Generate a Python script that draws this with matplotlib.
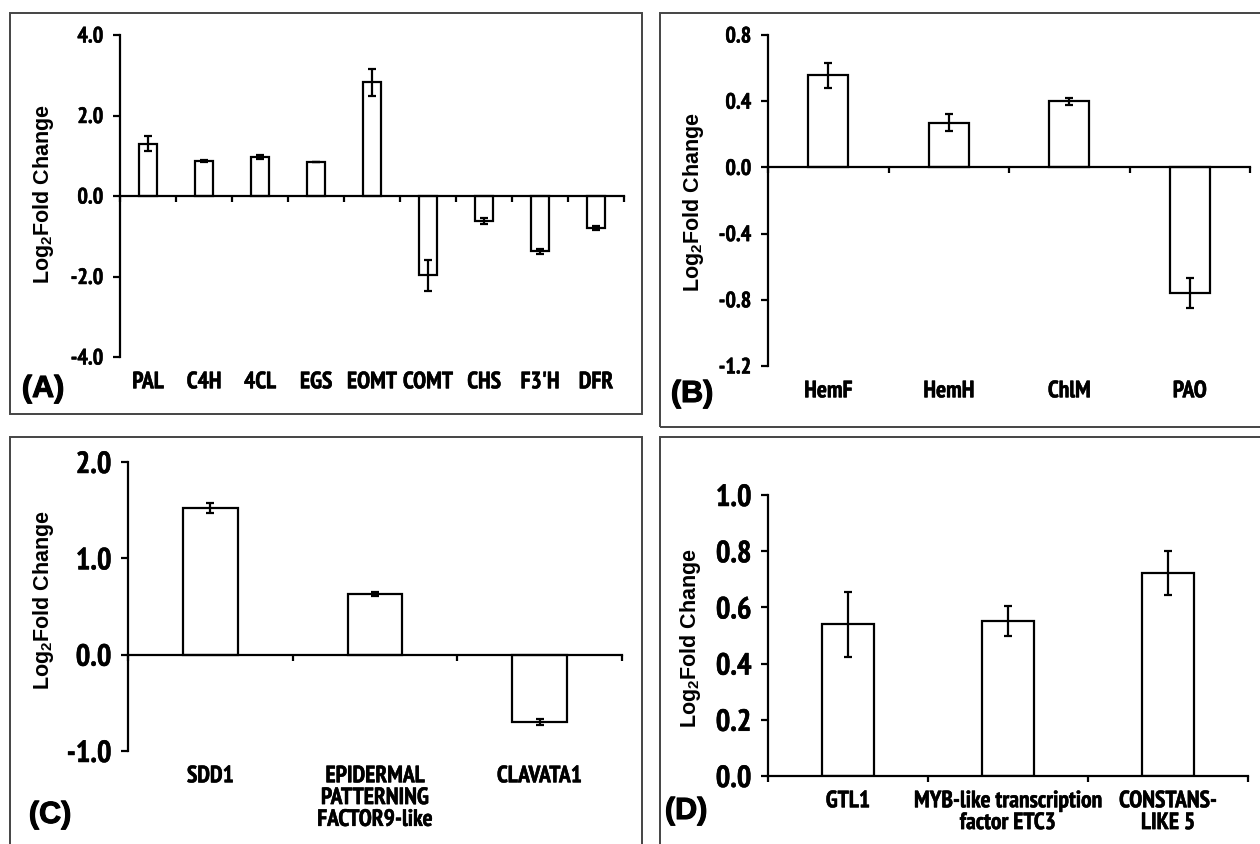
import numpy as np
import matplotlib
matplotlib.use('Agg')
import matplotlib.pyplot as plt
import matplotlib.patheffects as pe
from matplotlib import font_manager
from matplotlib.font_manager import FontProperties
from matplotlib.patches import Rectangle
from matplotlib.ticker import FormatStrFormatter

plt.rcParams['font.family'] = ['Liberation Sans', 'DejaVu Sans']
plt.rcParams['axes.unicode_minus'] = False
plt.rcParams['mathtext.fontset'] = 'custom'
plt.rcParams['mathtext.rm'] = 'Liberation Sans:bold'
plt.rcParams['mathtext.it'] = 'Liberation Sans:bold'
plt.rcParams['mathtext.bf'] = 'Liberation Sans:bold'

# look for a narrow / condensed bold face for the tick labels
narrow_file = None
for key in ['Narrow', 'Condensed']:
    for f in font_manager.fontManager.ttflist:
        fn = f.fname.replace('-', '').replace('_', '')
        if key in fn and 'Bold' in fn and 'Oblique' not in fn and 'Italic' not in fn \
                and 'Mono' not in fn and 'Serif' not in fn:
            narrow_file = f.fname
            break
    if narrow_file:
        break
if narrow_file:
    def nfont(size):
        return FontProperties(fname=narrow_file, size=size)
else:
    def nfont(size):
        return FontProperties(family='Liberation Sans', weight='bold', size=size * 0.85)

thick = [pe.withStroke(linewidth=0.35, foreground='black')]

# (A) phenylpropanoid genes
genes_a = ['PAL', 'C4H', '4CL', 'EGS', 'EOMT', 'COMT', 'CHS', "F3'H", 'DFR']
vals_a = [1.30, 0.87, 0.97, 0.84, 2.82, -1.97, -0.62, -1.37, -0.80]
errs_a = [0.18, 0.03, 0.06, 0.0, 0.33, 0.38, 0.07, 0.06, 0.05]

# (B) chlorophyll genes
genes_b = ['HemF', 'HemH', 'ChlM', 'PAO']
vals_b = [0.556, 0.270, 0.400, -0.757]
errs_b = [0.075, 0.053, 0.022, 0.090]

# (C) stomata genes
genes_c = ['SDD1', 'EPIDERMAL\nPATTERNING\nFACTOR9-like', 'CLAVATA1']
vals_c = [1.52, 0.63, -0.70]
errs_c = [0.05, 0.02, 0.03]

# (D) transcription factors
genes_d = ['GTL1', 'MYB-like transcription\nfactor ETC3', 'CONSTANS-\nLIKE 5']
vals_d = [0.540, 0.553, 0.723]
errs_d = [0.115, 0.053, 0.078]

W, H = 1260, 845
fig = plt.figure(figsize=(W / 100, H / 100), dpi=100)


def frac(x0, y0, x1, y1):
    return [x0 / W, 1 - y1 / H, (x1 - x0) / W, (y1 - y0) / H]


# panel frames
for x0, y0, x1, y1 in [(10, 14, 642, 415), (660, 14, 1265, 428),
                       (10, 438, 642, 850), (660, 438, 1265, 850)]:
    fig.patches.append(Rectangle((x0 / W, 1 - y1 / H), (x1 - x0) / W, (y1 - y0) / H,
                                 transform=fig.transFigure, fill=False,
                                 ec='#444444', lw=1.4))


def panel(box, genes, vals, errs, ylim, step, ysize, letter, letter_xy, ylab_xy):
    ax = fig.add_axes(frac(*box))
    x = np.arange(len(genes))
    ax.bar(x, vals, width=0.33, color='white', edgecolor='black', linewidth=1.6,
           yerr=errs, error_kw=dict(ecolor='black', elinewidth=1.6, capsize=3,
                                    capthick=1.6), zorder=2)
    ax.set_xlim(-0.5, len(genes) - 0.5)
    ax.set_ylim(*ylim)
    ax.set_yticks(np.arange(ylim[0], ylim[1] + step / 2, step))
    ax.yaxis.set_major_formatter(FormatStrFormatter('%.1f'))
    ax.set_xticks(np.arange(len(genes) + 1) - 0.5)
    ax.set_xticklabels([])
    ax.spines[['top', 'right']].set_visible(False)
    ax.spines['bottom'].set_position(('data', 0))
    for s in ['left', 'bottom']:
        ax.spines[s].set_linewidth(1.6)
    ax.tick_params(axis='x', direction='out', length=4, width=1.6)
    ax.tick_params(axis='y', direction='out', length=5, width=1.6, pad=7)
    for lbl in ax.get_yticklabels():
        lbl.set_fontproperties(nfont(ysize))
        lbl.set_path_effects(thick)
    for i, g in enumerate(genes):
        ax.annotate(g, (i, ylim[0]), xytext=(0, -11), textcoords='offset points',
                    ha='center', va='top', fontproperties=nfont(17),
                    linespacing=1.05, annotation_clip=False, path_effects=thick)
    fig.text(ylab_xy[0] / W, 1 - ylab_xy[1] / H, r'Log$_{2}$Fold Change',
             rotation=90, ha='center', va='center', fontsize=15.5, fontweight='bold')
    fig.text(letter_xy[0] / W, 1 - letter_xy[1] / H, letter, ha='center',
             va='center', fontsize=22, fontweight='bold', family='Liberation Sans',
             path_effects=[pe.withStroke(linewidth=0.8, foreground='black')])
    return ax


panel((120, 36, 624, 358), genes_a, vals_a, errs_a, (-4, 4), 2.0, 16,
      '(A)', (43, 390), (44, 194))
panel((768, 36, 1250, 367), genes_b, vals_b, errs_b, (-1.2, 0.8), 0.4, 16,
      '(B)', (692, 395), (693, 202))
panel((128, 463, 622, 752), genes_c, vals_c, errs_c, (-1.0, 2.0), 1.0, 22,
      '(C)', (50, 816), (44, 600))
panel((768, 496, 1248, 777), genes_d, vals_d, errs_d, (0.0, 1.0), 0.2, 22,
      '(D)', (686, 812), (690, 638))

fig.savefig('out.png', dpi=100)
